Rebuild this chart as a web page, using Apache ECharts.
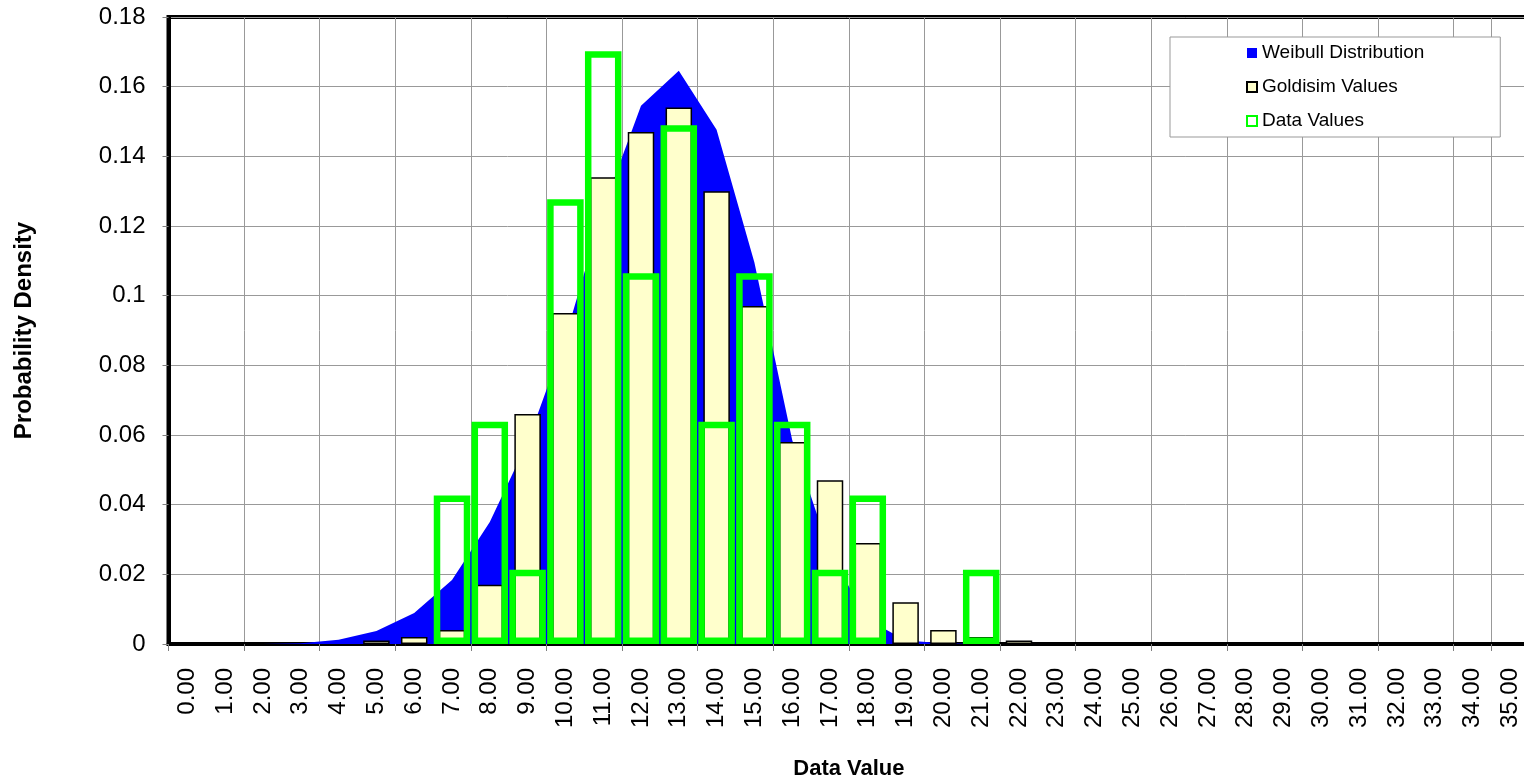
<!DOCTYPE html>
<html>
<head>
<meta charset="utf-8">
<script src="https://cdn.jsdelivr.net/npm/echarts@6/dist/echarts.min.js"></script>
<style>
html,body{margin:0;padding:0;background:#fff;}
#chart{width:1524px;height:783px;}
</style>
</head>
<body>
<div id="chart"></div>
<script>
var categories = ['0.00','1.00','2.00','3.00','4.00','5.00','6.00','7.00','8.00','9.00','10.00','11.00','12.00','13.00','14.00','15.00','16.00','17.00','18.00','19.00','20.00','21.00','22.00','23.00','24.00','25.00','26.00','27.00','28.00','29.00','30.00','31.00','32.00','33.00','34.00','35.00'];
var weibull = [0,0,0.00003,0.0002,0.0012,0.0037,0.0089,0.0184,0.035,0.058,0.088,0.125,0.1545,0.1646,0.1476,0.1095,0.0586,0.026,0.007,0.001,0.0002,0.00002,0,0,0,0,0,0,0,0,0,0,0,0,0,0];
var goldsim = [null,null,null,null,null,0.001,0.002,0.004,0.017,0.066,0.095,0.134,0.147,0.154,0.130,0.097,0.058,0.047,0.029,0.012,0.004,0.002,0.001,null,null,null,null,null,null,null,null,null,null,null,null,null];
var dataValues = [null,null,null,null,null,null,null,0.0426,0.0638,0.0213,0.1277,0.1702,0.1064,0.1489,0.0638,0.1064,0.0638,0.0213,0.0426,null,null,0.0213,null,null,null,null,null,null,null,null,null,null,null,null,null,null];
var yTicks = {min:0, max:0.18, interval:0.02};

var FONT = "'Liberation Sans', Arial, sans-serif";
var chart = echarts.init(document.getElementById('chart'), null, {renderer:'canvas'});
chart.setOption({
  animation:false,
  backgroundColor:'#ffffff',
  grid:{left:168.5, top:17, width:1360.8, height:627, show:true, borderColor:'#000', borderWidth:4, backgroundColor:'transparent', containLabel:false, outerBoundsMode:'none'},
  legend:{
    orient:'vertical', left:1170, top:37,
    padding:[6,76,6,76],
    backgroundColor:'#fff', borderColor:'#999', borderWidth:1,
    itemWidth:10, itemHeight:10, itemGap:14,
    textStyle:{fontFamily:FONT, fontSize:19, color:'#000', lineHeight:20},
    data:[
      {name:'Weibull Distribution', icon:'rect', itemStyle:{color:'#0000ff', borderWidth:0}},
      {name:'Goldisim Values', icon:'rect', itemStyle:{color:'#ffffcc', borderColor:'#000', borderWidth:2}},
      {name:'Data Values', icon:'rect', itemStyle:{color:'#ffffff', borderColor:'#00ff00', borderWidth:2}}
    ]
  },
  xAxis:[{
    type:'category', data:categories, boundaryGap:true,
    name:'Data Value', nameLocation:'middle', nameGap:114,
    nameTextStyle:{fontFamily:FONT, fontSize:22, fontWeight:'bold', color:'#000'},
    axisLine:{show:true, lineStyle:{color:'#000', width:4}},
    axisTick:{show:true, interval:1, length:7, lineStyle:{color:'#808080', width:1}},
    axisLabel:{interval:0, rotate:90, margin:24, fontFamily:FONT, fontSize:24, color:'#000'},
    splitLine:{show:true, interval:1, lineStyle:{color:'#999', width:1}}
  },{
    type:'category', data:categories, boundaryGap:true, show:false
  }],
  yAxis:{
    type:'value', min:yTicks.min, max:yTicks.max, interval:yTicks.interval,
    name:'Probability Density', nameLocation:'middle', nameGap:132,
    nameTextStyle:{fontFamily:FONT, fontSize:24, fontWeight:'bold', color:'#000'},
    axisLine:{show:true, lineStyle:{color:'#000', width:4}},
    axisTick:{show:true, length:6, lineStyle:{color:'#808080', width:1}},
    axisLabel:{margin:23, fontFamily:FONT, fontSize:24, color:'#000'},
    splitLine:{show:true, lineStyle:{color:'#999', width:1}}
  },
  series:[
    {name:'Weibull Distribution', type:'line', data:weibull, xAxisIndex:0, symbol:'none', smooth:false,
     lineStyle:{width:0, color:'#0000ff'}, itemStyle:{color:'#0000ff'}, areaStyle:{color:'#0000ff', opacity:1}, z:2},
    {name:'Goldisim Values', type:'bar', data:goldsim, xAxisIndex:0, barWidth:26.5,
     itemStyle:{color:'#ffffcc', borderColor:'#000', borderWidth:1.5}, z:3},
    {name:'Data Values', type:'bar', data:dataValues, xAxisIndex:1, barWidth:36.5,
     itemStyle:{color:'rgba(0,0,0,0)', borderColor:'#00ff00', borderWidth:6.5}, z:4}
  ]
});
</script>
</body>
</html>
